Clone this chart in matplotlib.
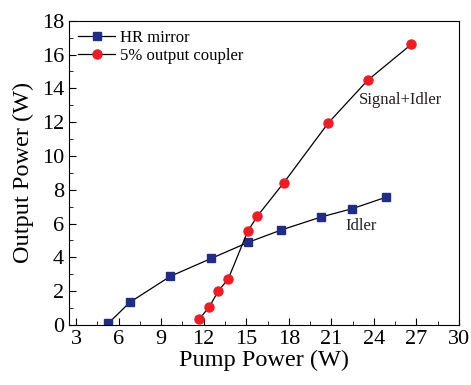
import matplotlib.pyplot as plt
from matplotlib.ticker import MultipleLocator

hr_x = [5.28, 6.79, 9.65, 12.54, 15.14, 17.47, 20.28, 22.47, 24.86]
hr_y = [0.1, 1.34, 2.88, 3.94, 4.89, 5.62, 6.39, 6.88, 7.56]

oc_x = [11.68, 12.40, 13.03, 13.73, 15.1, 15.79, 17.65, 20.77, 23.56, 26.63]
oc_y = [0.34, 1.08, 2.01, 2.72, 5.54, 6.45, 8.42, 11.94, 14.48, 16.6]

plt.rcParams['font.family'] = ['Liberation Serif', 'DejaVu Serif']

fig = plt.figure(figsize=(4.71, 3.85), dpi=100)
ax = fig.add_axes([0.1465, 0.156, 0.828, 0.79])

ax.plot(hr_x, hr_y, '-s', color='black', lw=0.9, mfc='#1f2d86', mec='#1f2d86',
        ms=5.5, label='HR mirror')
ax.plot(oc_x, oc_y, '-o', color='black', lw=0.9, mfc='#ee1c24', mec='#ee1c24',
        ms=6.5, label='5% output coupler')

ax.text(22.94, 13.3, 'Signal+Idler', fontsize=12, va='center', color='#231f20')
ax.text(21.98, 5.86, 'Idler', fontsize=12, va='center', color='#231f20')

ax.set_xlim(2.5, 30)
ax.set_ylim(0, 18)
ax.xaxis.set_major_locator(MultipleLocator(3))
ax.xaxis.set_minor_locator(MultipleLocator(1.5))
ax.yaxis.set_major_locator(MultipleLocator(2))
ax.yaxis.set_minor_locator(MultipleLocator(1))
ax.tick_params(which='both', direction='in', top=False, right=False, labelsize=16)
ax.tick_params(which='major', length=5)
ax.tick_params(which='minor', length=3)

ax.set_xlabel('Pump Power (W)', fontsize=17.5, labelpad=1)
ax.set_ylabel('Output Power (W)', fontsize=17.5, labelpad=6)

ax.legend(loc='upper left', fontsize=12, frameon=False, handlelength=2.2,
          handletextpad=0.3, borderaxespad=0.15, labelspacing=0.1)

fig.savefig('out.png', dpi=100)
